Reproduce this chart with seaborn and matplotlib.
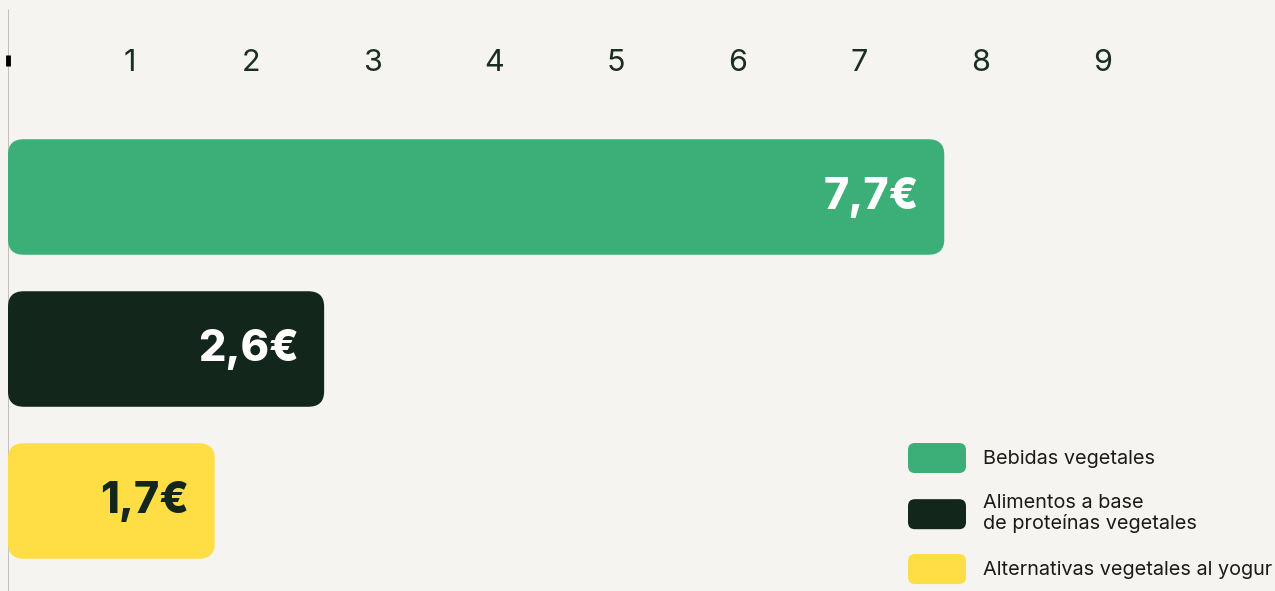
import matplotlib
matplotlib.use("Agg")
import matplotlib.pyplot as plt
import matplotlib.transforms as mtransforms
from matplotlib.patches import FancyBboxPatch, Patch
from matplotlib.legend_handler import HandlerPatch
import pandas as pd
import seaborn as sns

# datos
categorias = ["Bebidas vegetales", "Alimentos a base\nde proteínas vegetales", "Alternativas vegetales al yogur"]
valores = [7.7, 2.6, 1.7]
etiquetas = ["7,7€", "2,6€", "1,7€"]
colores = ["#3baf77", "#13261b", "#ffde45"]
color_texto = ["white", "white", "#13261b"]
ticks = [1, 2, 3, 4, 5, 6, 7, 8, 9]

fondo = "#f5f4f0"
sns.set_theme(style="white")
plt.rcParams["font.family"] = ["Inter", "DejaVu Sans"]

df = pd.DataFrame({"categoria": categorias, "valor": valores})

fig = plt.figure(figsize=(12.75, 5.91), dpi=100, facecolor=fondo)
ax = fig.add_axes([8 / 1275, 0, 1 - 8 / 1275, 1])
ax.set_facecolor(fondo)

sns.barplot(data=df, x="valor", y="categoria", hue="categoria", palette=colores,
            orient="h", width=0.76, saturation=1, legend=False, ax=ax)

ax.set_xlim(0, 10.42)
ax.set_ylim(2.592, -1.296)

# barras con esquinas redondeadas
for p in list(ax.patches):
    x0, y0, w, h = p.get_x(), p.get_y(), p.get_width(), p.get_height()
    fc = p.get_facecolor()
    p.remove()
    ax.add_patch(FancyBboxPatch((x0, y0), w, h,
                                boxstyle="round,pad=0,rounding_size=0.13",
                                mutation_aspect=0.78, fc=fc, ec="none", zorder=2))

# etiquetas de valor
for i, (v, t, c) in enumerate(zip(valores, etiquetas, color_texto)):
    ax.text(v - 0.21, i, t, ha="right", va="center", fontsize=31,
            fontweight="heavy", color=c, zorder=3)

# escala superior
trans = mtransforms.blended_transform_factory(ax.transData, ax.transAxes)
for t in ticks:
    ax.text(t, 1 - 63 / 591, str(t), transform=trans, ha="center", va="center",
            fontsize=22, fontweight="normal", color="#1b2e22")
ax.axvline(0, ymin=0, ymax=1 - 10 / 591, color="#b8b8b2", lw=1.2, zorder=1)
ax.plot([0, 0], [1 - 55 / 591, 1 - 66 / 591], transform=trans, lw=3.5,
        color="black", solid_capstyle="butt", clip_on=False, zorder=5)

ax.set_xticks([])
ax.set_yticks([])
ax.set_xlabel("")
ax.set_ylabel("")
for s in ax.spines.values():
    s.set_visible(False)


def caja_redonda(legend, orig_handle, xdescent, ydescent, width, height, fontsize):
    return FancyBboxPatch((-xdescent, -ydescent), width, height,
                          boxstyle="round,pad=0,rounding_size=5", ec="none")


handles = [Patch(facecolor=c, edgecolor="none") for c in colores]
leg = ax.legend(handles, categorias, loc="upper left",
                bbox_to_anchor=(908 / 1275, 1 - 443 / 591),
                bbox_transform=fig.transFigure, frameon=False, fontsize=14.3,
                handlelength=2.92, handleheight=1.95, handletextpad=0.86,
                labelspacing=1.05, borderpad=0, borderaxespad=0,
                handler_map={Patch: HandlerPatch(patch_func=caja_redonda)})
for txt in leg.get_texts():
    txt.set_color("#1a1a1a")
    txt.set_linespacing(1.15)

fig.savefig("out.png", dpi=100, facecolor=fondo)
